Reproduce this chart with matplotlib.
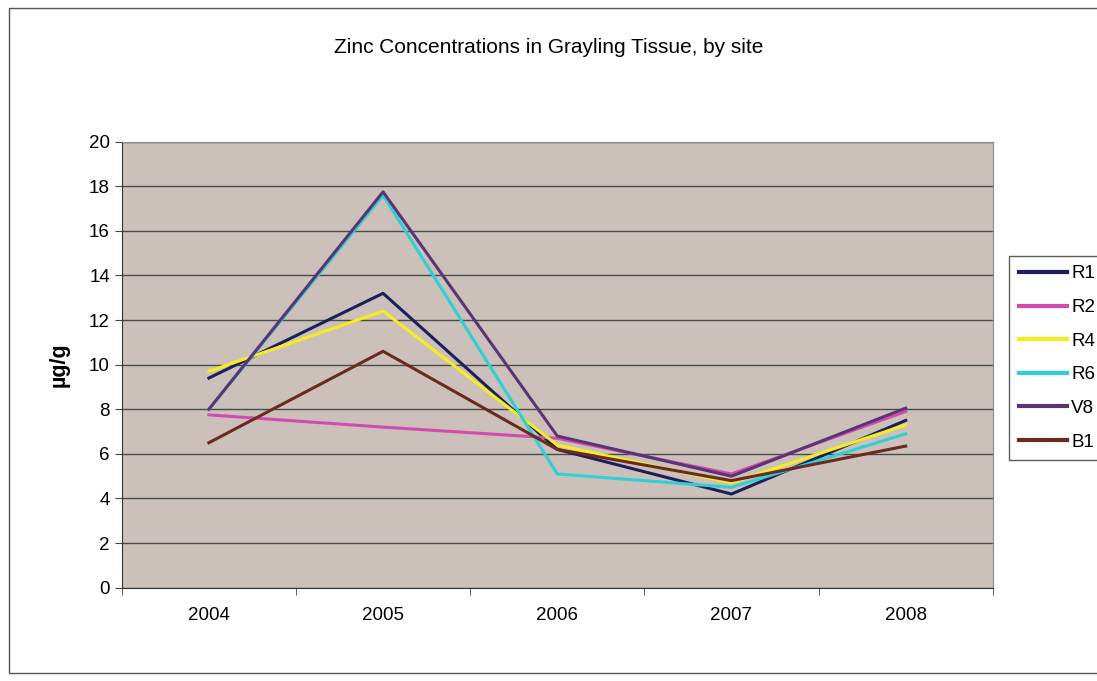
import numpy as np
import matplotlib.pyplot as plt
from matplotlib.patches import Rectangle

plt.rcParams['font.family'] = ['Liberation Sans', 'DejaVu Sans']

# dados (µg/g)
years = ['2004', '2005', '2006', '2007', '2008']
sites = ['R1', 'R2', 'R4', 'R6', 'V8', 'B1']
r1 = [9.4, 13.2, 6.2, 4.2, 7.5]
r2 = [7.75, 7.2, 6.7, 5.1, 7.9]
r4 = [9.7, 12.4, 6.4, 4.7, 7.3]
r6 = [8.0, 17.6, 5.1, 4.5, 6.9]
v8 = [8.0, 17.75, 6.8, 5.0, 8.05]
b1 = [6.5, 10.6, 6.2, 4.8, 6.35]
colors = ['#1c1f5c', '#d24cae', '#f4ee1e', '#2fcfd6', '#5a3474', '#6c2a1e']

fig = plt.figure(figsize=(10.97, 6.81), dpi=100)
ax = fig.add_axes([0.111, 0.137, 0.794, 0.655])
ax.set_facecolor('#cbc1ba')

x = np.arange(len(years))
for vals, name, c in zip([r1, r2, r4, r6, v8, b1], sites, colors):
    ax.plot(x, vals, color=c, lw=2.2, label=name)

ax.set_xlim(-0.5, 4.5)
ax.set_ylim(0, 20)
ax.set_yticks(range(0, 21, 2))
ax.set_xticks(x)
ax.set_xticklabels(years)
ax.set_xticks(np.arange(-0.5, 5, 1), minor=True)
ax.tick_params(axis='x', which='major', length=0, labelsize=13.5, pad=14)
ax.tick_params(axis='x', which='minor', length=5, color='#444444')
ax.tick_params(axis='y', labelsize=13.5, length=5, color='#444444')
ax.grid(axis='y', color='#4a4a4a', lw=1)
ax.set_axisbelow(True)
for s in ['top', 'right']:
    ax.spines[s].set_color('#8a8a8a')
for s in ['left', 'bottom']:
    ax.spines[s].set_color('#333333')

ax.set_ylabel('µg/g', fontsize=15.5, fontweight='bold', labelpad=14)
fig.text(0.5, 0.93, 'Zinc Concentrations in Grayling Tissue, by site',
         ha='center', va='center', fontsize=15)

leg = ax.legend(loc='center left', bbox_to_anchor=(1.008, 0.515), fontsize=13.5,
                frameon=True, fancybox=False, edgecolor='#333333',
                handlelength=2.6, labelspacing=0.88, borderpad=0.5,
                handletextpad=0.2)
for h in leg.get_lines():
    h.set_linewidth(3)

# moldura do gráfico
fig.patches.append(Rectangle((0.008, 0.012), 1.5, 0.976, transform=fig.transFigure,
                             fill=False, edgecolor='#555555', lw=1))

fig.savefig('out.png', dpi=100)
